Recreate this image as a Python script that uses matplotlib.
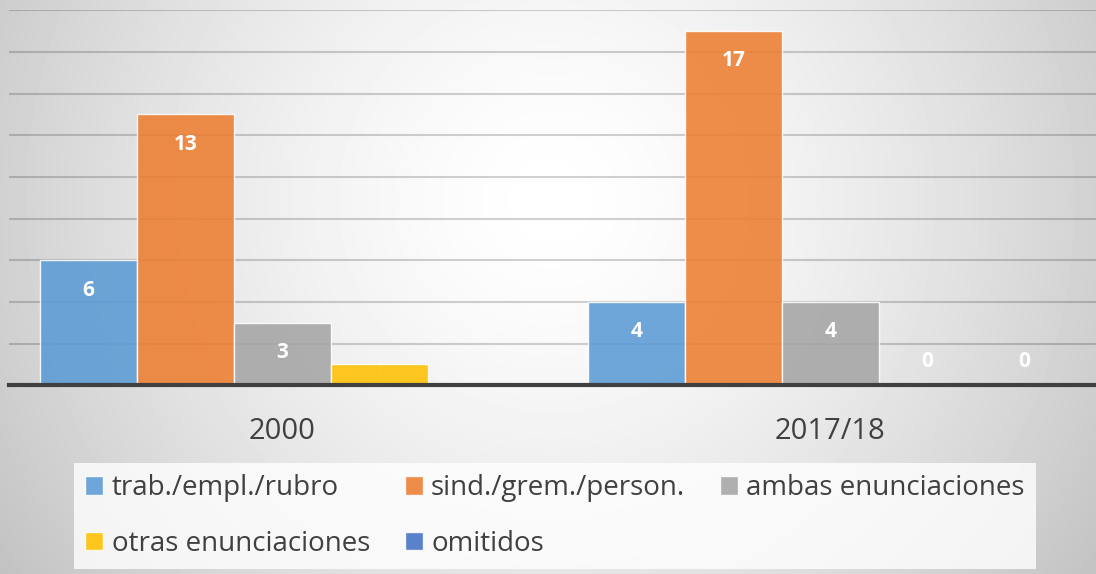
import matplotlib.pyplot as plt
import numpy as np
from matplotlib.patches import Patch

plt.rcParams['font.family'] = ['Open Sans', 'DejaVu Sans']

periods = ["2000", "2017/18"]
series = ["trab./empl./rubro", "sind./grem./person.", "ambas enunciaciones",
          "otras enunciaciones", "omitidos"]
trab = [6, 4]
sind = [13, 17]
ambas = [3, 4]
otras = [1, 0]
omitidos = [np.nan, 0]
colors = ["#5B9BD5", "#ED7D31", "#A5A5A5", "#FFC000", "#4472C4"]

values = [trab, sind, ambas, otras, omitidos]
text_color = "#404040"

fig = plt.figure(figsize=(10.96, 5.74), dpi=100)

# soft radial background, white near the middle and grey at the edges
bg = fig.add_axes([0, 0, 1, 1], zorder=0)
yy, xx = np.mgrid[0:574, 0:1096]
dist = np.hypot(xx - 550, yy - 200) / 665
shade = 1 - 0.24 * dist ** 1.5
bg.imshow(shade, cmap="gray", vmin=0, vmax=1, aspect="auto", interpolation="bilinear")
bg.axis("off")

ax = fig.add_axes([8.5 / 1096, 1 - 385.3 / 574, 1.0, 375 / 574], zorder=1)
ax.set_facecolor("none")

x = np.arange(len(periods))
width = 0.177
for i, (vals, color) in enumerate(zip(values, colors)):
    pos = x + (i - 2) * width
    bars = ax.bar(pos, vals, width, color=color, alpha=0.88,
                  edgecolor=(1, 1, 1, 0.5), linewidth=1, zorder=2)
    for xp, v in zip(pos, vals):
        if np.isnan(v):
            continue
        if v == 0:
            ax.annotate(f"{v:g}", (xp, v), xytext=(0, 17), textcoords="offset points",
                        ha="center", va="center", color="white",
                        fontsize=15, fontweight="bold", zorder=4)
        elif v < 2:
            # label too large for the bar: it ends up hidden behind it
            ax.annotate(f"{v:g}", (xp, v), xytext=(0, 2), textcoords="offset points",
                        ha="center", va="top", color="white",
                        fontsize=15, fontweight="bold", zorder=1)
        else:
            ax.annotate(f"{v:g}", (xp, v), xytext=(0, -21.5), textcoords="offset points",
                        ha="center", va="center", color="white",
                        fontsize=15, fontweight="bold", zorder=4)

ax.set_xlim(-0.5, 1.5)
ax.set_ylim(0, 18)
ax.set_yticks(range(0, 19, 2))
ax.yaxis.grid(True, color="black", alpha=0.18, linewidth=1.5)
ax.set_axisbelow(True)
ax.tick_params(axis="y", left=False, labelleft=False)
ax.set_xticks(x, periods)
ax.tick_params(axis="x", length=0, pad=23, labelsize=21, labelcolor=text_color)
for sp in ax.spines.values():
    sp.set_visible(False)
ax.axhline(0, color="#404040", linewidth=3, zorder=3, clip_on=False)

handles = [Patch(facecolor=c, alpha=0.88, edgecolor=(1, 1, 1, 0.6), label=s)
           for c, s in zip(colors, series)]
# reorder so the legend reads row by row
order = [0, 3, 1, 4, 2]
leg = fig.legend([handles[k] for k in order], [series[k] for k in order],
                 ncol=3, loc="center", bbox_to_anchor=(555 / 1096, 1 - 516 / 574),
                 fontsize=20, handlelength=0.65, handleheight=0.65, handletextpad=0.3,
                 columnspacing=1.25, labelspacing=1.0, borderpad=0.4,
                 frameon=True, fancybox=False, labelcolor=text_color)
leg.get_frame().set_facecolor((1, 1, 1, 0.22))
leg.get_frame().set_edgecolor("none")

fig.savefig("out.png", dpi=100)
